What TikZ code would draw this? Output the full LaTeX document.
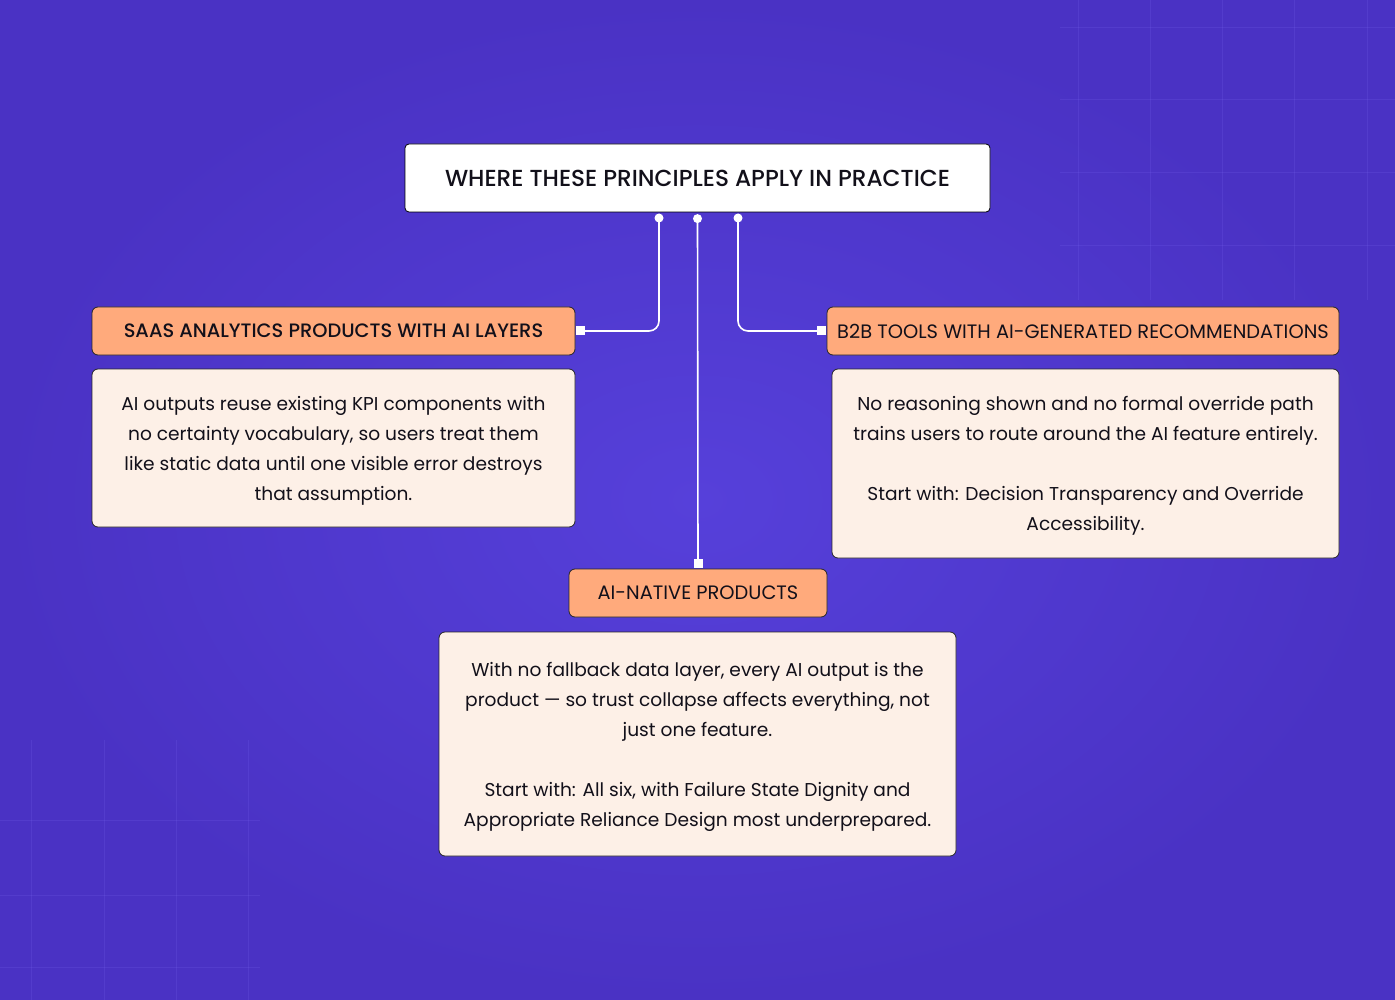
\documentclass[tikz,border=0pt]{standalone}
\usepackage{fontspec}
\setmainfont{Poppins}
\newfontfamily\headfont{Poppins}[UprightFont=* Medium]
\usetikzlibrary{positioning}

\definecolor{bgmid}{RGB}{86,64,218}
\definecolor{bgedge}{RGB}{74,50,196}
\definecolor{gridline}{RGB}{120,100,240}
\definecolor{headfill}{RGB}{255,170,124}
\definecolor{notefill}{RGB}{253,240,231}
\definecolor{inktext}{RGB}{18,16,26}

\begin{document}
\begin{tikzpicture}[x=1pt, y=-1pt,
  titlebox/.style={draw=black, fill=white, rounded corners=4pt, line width=0.8pt,
    minimum width=585pt, minimum height=68pt, text=inktext, font=\headfont\fontsize{23.2}{26}\selectfont},
  headbox/.style={draw=black!85, fill=headfill, rounded corners=6pt, line width=0.8pt,
    minimum height=48pt, text=inktext, font=\fontsize{19.4}{22}\selectfont},
  notebox/.style={draw=black!85, fill=notefill, rounded corners=6pt, line width=0.8pt,
    align=center, text depth=0pt, text=inktext, font=\fontsize{18.6}{30}\selectfont},
  link/.style={draw=white, line width=1.6pt, rounded corners=10pt},
  tap/.style={circle, fill=white, inner sep=0pt, minimum size=9pt},
  plug/.style={rectangle, fill=white, inner sep=0pt, minimum size=9pt},
  faint/.style={draw=gridline, line width=1pt, opacity=0.2}
]
  % background
  \useasboundingbox (0,0) rectangle (1395,1000);
  \shade[inner color=bgmid, outer color=bgedge] (0,0) rectangle (1395,1000);

  % faint grid, top right and bottom left
  \foreach \x in {1078,1150,1222,1294,1367}
    \draw[faint] (\x,0) -- (\x,300);
  \foreach \y in {28,100,173,246}
    \draw[faint] (1060,\y) -- (1395,\y);
  \foreach \x in {31,104,176,248}
    \draw[faint] (\x,740) -- (\x,1000);
  \foreach \y in {820,895,967}
    \draw[faint] (0,\y) -- (260,\y);

  % title
  \node[titlebox] (title) at (697.5,178) {WHERE THESE PRINCIPLES APPLY IN PRACTICE};

  % three product kinds
  \node[headbox, minimum width=483pt, font=\headfont\fontsize{19.4}{22}\selectfont] (saas) at (333.5,331)
    {SAAS ANALYTICS PRODUCTS WITH AI LAYERS};
  \node[notebox, minimum width=483pt, minimum height=158pt] (saasnote) at (333.5,448)
    {AI outputs reuse existing KPI components with\\
     no certainty vocabulary, so users treat them\\
     like static data until one visible error destroys\\
     that assumption.};

  \node[headbox, minimum width=512pt] (b2b) at (1083,331)
    {B2B TOOLS WITH AI-GENERATED RECOMMENDATIONS};
  \node[notebox, minimum width=507pt, minimum height=189pt] (b2bnote) at (1085.5,463.5)
    {No reasoning shown and no formal override path\\
     trains users to route around the AI feature entirely.\\[30pt]
     Start with: Decision Transparency and Override\\
     Accessibility.};

  \node[headbox, minimum width=258pt] (native) at (698,593) {AI-NATIVE PRODUCTS};
  \node[notebox, minimum width=517pt, minimum height=224pt] (nativenote) at (697.5,744)
    {With no fallback data layer, every AI output is the\\
     product — so trust collapse affects everything, not\\
     just one feature.\\[30pt]
     Start with: All six, with Failure State Dignity and\\
     Appropriate Reliance Design most underprepared.};

  % connectors
  \node[tap] (tapL) at (659,218) {};
  \node[tap, below=1.5pt of title] (tapM) {};
  \node[tap] (tapR) at (738,218) {};
  \node[plug, right=0pt of saas] (plugL) {};
  \node[plug, above=0pt of native] (plugM) {};
  \node[plug, left=0pt of b2b] (plugR) {};

  \draw[link] (tapL.center) |- (plugL.center);
  \draw[link] (tapM.center) -- (plugM.center);
  \draw[link] (tapR.center) |- (plugR.center);
\end{tikzpicture}
\end{document}
